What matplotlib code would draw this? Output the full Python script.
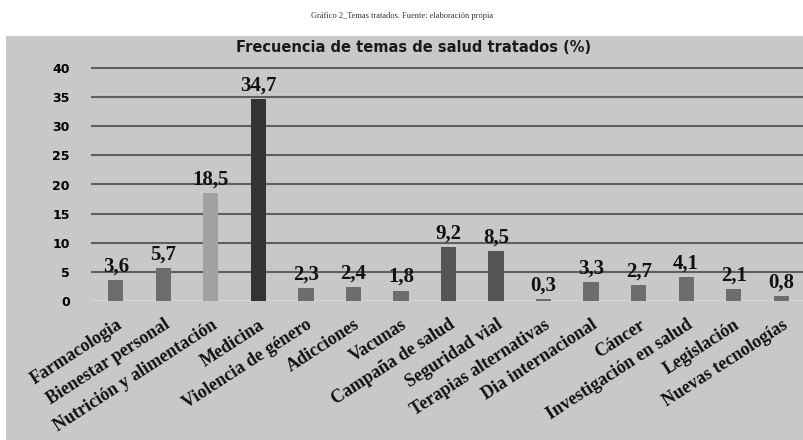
import matplotlib
matplotlib.use("Agg")
import matplotlib.pyplot as plt
from matplotlib.patches import Rectangle

temas = ['Farmacologia', 'Bienestar personal', 'Nutrición y alimentación', 'Medicina',
         'Violencia de género', 'Adicciones', 'Vacunas', 'Campaña de salud',
         'Seguridad vial', 'Terapias alternativas', 'Dia internacional', 'Cáncer',
         'Investigación en salud', 'Legislación', 'Nuevas tecnologías']
porcentajes = [3.6, 5.7, 18.5, 34.7, 2.3, 2.4, 1.8, 9.2, 8.5, 0.3, 3.3, 2.7, 4.1, 2.1, 0.8]
colores = ['#6d6d6d', '#6d6d6d', '#a2a2a2', '#333333', '#6d6d6d', '#6d6d6d', '#6d6d6d',
           '#555555', '#555555', '#6d6d6d', '#6d6d6d', '#6d6d6d', '#6d6d6d', '#6d6d6d', '#6d6d6d']
yticks = [0, 5, 10, 15, 20, 25, 30, 35, 40]

fig = plt.figure(figsize=(8.04, 4.4), dpi=100)
fig.patch.set_facecolor('white')

# grey chart box under the white caption strip
fig.patches.append(Rectangle((6 / 804, 0), 1 - 6 / 804, 1 - 36 / 440, transform=fig.transFigure,
                             facecolor='#c8c8c8', edgecolor='none', zorder=-5))

fig.text(0.5, 1 - 16 / 440, 'Gráfico 2_Temas tratados. Fuente: elaboración propia',
         ha='center', va='center', fontsize=6, family='Liberation Serif', color='#333333')
fig.text(414 / 804, 1 - 47 / 440, 'Frecuencia de temas de salud tratados (%)',
         ha='center', va='center', fontsize=10.5, fontweight='bold', family='DejaVu Sans',
         color='#1a1a1a')

ax = fig.add_axes([92 / 804, 139 / 440, 713 / 804, 233 / 440])
ax.set_facecolor('none')

x = range(len(temas))
bars = ax.bar(x, porcentajes, width=0.32, color=colores, zorder=3)

for xi, v in zip(x, porcentajes):
    ax.text(xi, v + 0.6, f'{v:.1f}'.replace('.', ','), ha='center', va='bottom',
            fontsize=15, fontweight='bold', family='Liberation Serif', zorder=4, color='#111111')

ax.set_xlim(-0.5, len(temas) - 0.5)
ax.set_ylim(0, 40)
ax.set_yticks(yticks)
ax.set_yticklabels([str(t) for t in yticks], fontsize=9, fontweight='bold', family='DejaVu Sans')
for t in yticks[1:]:
    ax.axhline(t, color='#5f5f5f', linewidth=1.5, zorder=1, clip_on=False)
ax.axhline(0, color='#dadada', linewidth=1.2, zorder=2)

ax.set_xticks(list(x))
ax.set_xticklabels(temas, rotation=33, ha='right', rotation_mode='anchor',
                   fontsize=13, fontweight='bold', family='Liberation Serif', color='#111111')
ax.tick_params(axis='both', length=0)
ax.tick_params(axis='y', pad=16)
ax.tick_params(axis='x', pad=11)
for s in ax.spines.values():
    s.set_visible(False)

fig.savefig('out.png', dpi=100, facecolor=fig.get_facecolor())
